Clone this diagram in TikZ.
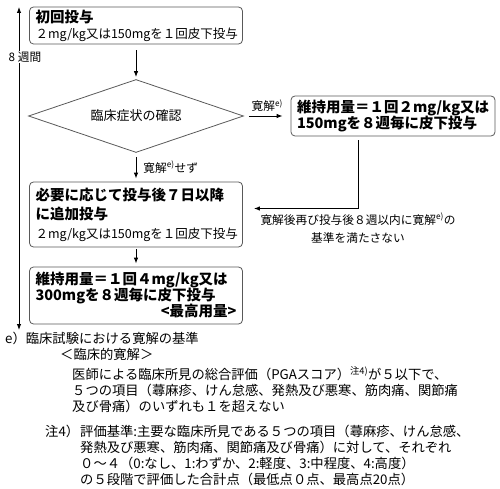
\documentclass[tikz,border=0pt]{standalone}
\usepackage{fontspec}
\setmainfont{Noto Sans CJK JP}
\usetikzlibrary{arrows.meta,positioning,shapes.geometric}
\newcommand{\headfont}{\fontsize{14.5}{16}\selectfont\bfseries}

\begin{document}
\begin{tikzpicture}[x=1pt,y=-1pt,
  font=\fontsize{12.5}{16}\selectfont,
  block/.style={draw=black!65,rounded corners=4pt,line width=.8pt,align=left,inner xsep=6pt,inner ysep=2pt,text width=201pt},
  flow/.style={-{Latex[length=6pt,width=4.5pt]},line width=.9pt},
  lab/.style={font=\fontsize{11.7}{18}\selectfont,inner sep=1pt},
  note/.style={anchor=north west,align=left,inner sep=0pt,font=\fontsize{13.3}{16}\selectfont}]
  \useasboundingbox (0,0) rectangle (500,489);
  \node[block,minimum height=37pt] (first) at (136,25.5)
    {{\headfont 初回投与}\\
     ２mg/kg又は150mgを１回皮下投与};
  \node[diamond,draw=black!65,line width=.8pt,aspect=2.9,minimum width=215pt,minimum height=73pt,inner sep=0pt,
    font=\fontsize{13}{16}\selectfont] (check) at (136,116) {臨床症状の確認};
  \node[block,font=\headfont,text width=192pt,minimum height=40pt] (keep2) at (393,116)
    {維持用量＝１回２mg/kg又は\\
     150mgを８週毎に皮下投与};
  \node[block,minimum height=65pt] (extra) at (136,214.5)
    {{\headfont 必要に応じて投与後７日以降}\\[3pt]
     {\headfont に追加投与}\\[3pt]
     ２mg/kg又は150mgを１回皮下投与};
  \node[block,font=\headfont,minimum height=57pt] (maxdose) at (136,295.5)
    {維持用量＝１回４mg/kg又は\\
     300mgを８週毎に皮下投与\\
     \hskip 0pt plus 1filll<最高用量>};
  \draw[flow,shorten <=6pt,shorten >=2pt] (first) -- (check);
  \draw[flow,shorten <=5pt,shorten >=8pt] (check) -- node[lab,above=3pt] {寛解\textsuperscript{e)}} (keep2);
  \draw[flow,shorten <=4pt,shorten >=3pt] (check) -- node[lab,right=6pt] {寛解\textsuperscript{e)}せず} (extra);
  \draw[flow,shorten <=4pt,shorten >=11pt] ([xshift=-35pt]keep2.south) |-
    node[lab,below=3pt,align=center] {寛解後再び投与後８週以内に寛解\textsuperscript{e)}の\\基準を満たさない}
    ([yshift=6pt]extra.east);
  \draw[flow,shorten <=2pt,shorten >=3pt] (extra) -- (maxdose);
  % 8-week span on the left
  \coordinate (wtop) at (19,7);
  \coordinate (wbot) at (19,330);
  \draw[{Latex[length=6pt,width=4.5pt]}-{Latex[length=6pt,width=4.5pt]},line width=.9pt] (wtop) -- (wbot);
  \node[lab,fill=white] (weeks) at (25,57) {8 週間};
  % remission criteria
  \node[note] (crit) at (5,332) {e）臨床試験における寛解の基準};
  \node[note] (clin) at (60,348) {＜臨床的寛解＞};
  \node[note] (pga) at (72,366)
    {医師による臨床所見の総合評価（PGAスコア）\textsuperscript{注4)}が５以下で、\\
     ５つの項目（蕁麻疹、けん怠感、発熱及び悪寒、筋肉痛、関節痛\\
     及び骨痛）のいずれも１を超えない};
  \node[note] (n4) at (45,425) {注4）};
  \node[note] (n4text) at (80,425)
    {評価基準:主要な臨床所見である５つの項目（蕁麻疹、けん怠感、\\
     発熱及び悪寒、筋肉痛、関節痛及び骨痛）に対して、それぞれ\\
     ０～４（0:なし、1:わずか、2:軽度、3:中程度、4:高度）\\
     の５段階で評価した合計点（最低点０点、最高点20点）};
\end{tikzpicture}
\end{document}
